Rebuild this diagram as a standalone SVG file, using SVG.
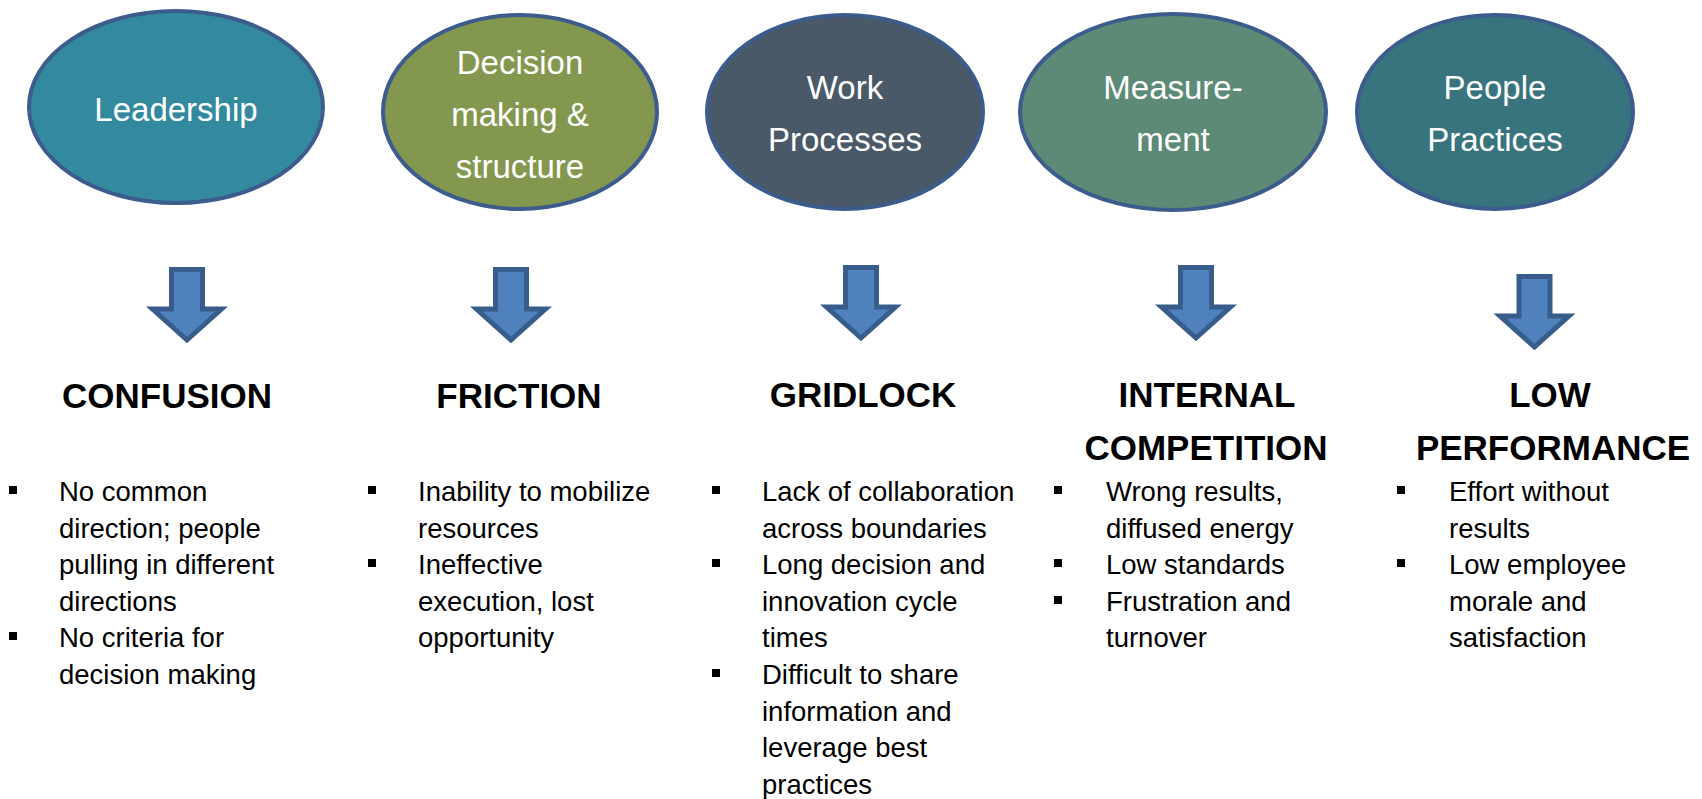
<svg xmlns="http://www.w3.org/2000/svg" xmlns:xlink="http://www.w3.org/1999/xlink" width="1702" height="799" viewBox="0 0 1702 799">
  <style>
    .oval { stroke: #3B5C8C; stroke-width: 4; }
    .oval-text { font-family: "Liberation Sans", Arial, sans-serif; font-size: 33px; fill: #FFFFFF; text-anchor: middle; }
    .title { font-family: "Liberation Sans", Arial, sans-serif; font-size: 35px; font-weight: bold; fill: #000000; text-anchor: middle; }
    .item { font-family: "Liberation Sans", Arial, sans-serif; font-size: 27.5px; fill: #000000; }
    .bullet { fill: #000000; }
    .down-arrow { fill: #4F81BD; stroke: #385D8A; stroke-width: 5; stroke-linejoin: miter; }
  </style>
  <defs>
    <!-- block arrow pointing down, origin at top centre of the shaft -->
    <path id="blockArrow" d="M -15.5 0 L 15.5 0 L 15.5 39.5 L 34.5 39.5 L 0 70.5 L -34.5 39.5 L -15.5 39.5 Z"/>
    <rect id="sq" width="8" height="8"/>
  </defs>
  <rect width="1702" height="799" fill="#FFFFFF"/>

  <!-- top row: organisational drivers -->
  <g id="node-leadership">
    <ellipse class="oval" cx="176" cy="107" rx="147" ry="96" fill="#338A9E"/>
    <text class="oval-text" x="176" y="121">Leadership</text>
  </g>
  <g id="node-decision">
    <ellipse class="oval" cx="520" cy="112" rx="137" ry="97" fill="#84974F"/>
    <text class="oval-text" x="520" y="74">Decision</text>
    <text class="oval-text" x="520" y="126">making &amp;</text>
    <text class="oval-text" x="520" y="178">structure</text>
  </g>
  <g id="node-work">
    <ellipse class="oval" cx="845" cy="112" rx="138" ry="97" fill="#4A5968"/>
    <text class="oval-text" x="845" y="99">Work</text>
    <text class="oval-text" x="845" y="151">Processes</text>
  </g>
  <g id="node-measurement">
    <ellipse class="oval" cx="1173" cy="112" rx="153" ry="98" fill="#5C8A76"/>
    <text class="oval-text" x="1173" y="99">Measure-</text>
    <text class="oval-text" x="1173" y="151">ment</text>
  </g>
  <g id="node-people">
    <ellipse class="oval" cx="1495" cy="112" rx="138" ry="97" fill="#38747E"/>
    <text class="oval-text" x="1495" y="99">People</text>
    <text class="oval-text" x="1495" y="151">Practices</text>
  </g>

  <!-- down arrows from each driver to its symptom -->
  <g id="connectors">
    <use xlink:href="#blockArrow" class="down-arrow" transform="translate(187 269.5)"/>
    <use xlink:href="#blockArrow" class="down-arrow" transform="translate(511 269.5)"/>
    <use xlink:href="#blockArrow" class="down-arrow" transform="translate(861 267.5)"/>
    <use xlink:href="#blockArrow" class="down-arrow" transform="translate(1196 267.5)"/>
    <use xlink:href="#blockArrow" class="down-arrow" transform="translate(1534.5 276.5)"/>
  </g>

  <!-- symptom columns -->
  <g id="node-confusion">
    <text class="title" x="167" y="408">CONFUSION</text>
    <use xlink:href="#sq" class="bullet" x="9" y="486"/>
    <use xlink:href="#sq" class="bullet" x="9" y="632"/>
    <text class="item" x="59" y="501">No common</text>
    <text class="item" x="59" y="537.6">direction; people</text>
    <text class="item" x="59" y="574.2">pulling in different</text>
    <text class="item" x="59" y="610.8">directions</text>
    <text class="item" x="59" y="647.4">No criteria for</text>
    <text class="item" x="59" y="684">decision making</text>
  </g>

  <g id="node-friction">
    <text class="title" x="519" y="408">FRICTION</text>
    <use xlink:href="#sq" class="bullet" x="368" y="486"/>
    <use xlink:href="#sq" class="bullet" x="368" y="559"/>
    <text class="item" x="418" y="501">Inability to mobilize</text>
    <text class="item" x="418" y="537.6">resources</text>
    <text class="item" x="418" y="574.2">Ineffective</text>
    <text class="item" x="418" y="610.8">execution, lost</text>
    <text class="item" x="418" y="647.4">opportunity</text>
  </g>

  <g id="node-gridlock">
    <text class="title" x="863" y="407">GRIDLOCK</text>
    <use xlink:href="#sq" class="bullet" x="712" y="486"/>
    <use xlink:href="#sq" class="bullet" x="712" y="559"/>
    <use xlink:href="#sq" class="bullet" x="712" y="669"/>
    <text class="item" x="762" y="501">Lack of collaboration</text>
    <text class="item" x="762" y="537.6">across boundaries</text>
    <text class="item" x="762" y="574.2">Long decision and</text>
    <text class="item" x="762" y="610.8">innovation cycle</text>
    <text class="item" x="762" y="647.4">times</text>
    <text class="item" x="762" y="684">Difficult to share</text>
    <text class="item" x="762" y="720.6">information and</text>
    <text class="item" x="762" y="757.2">leverage best</text>
    <text class="item" x="762" y="793.8">practices</text>
  </g>

  <g id="node-internal-competition">
    <text class="title" x="1207" y="407">INTERNAL</text>
    <text class="title" x="1206" y="460">COMPETITION</text>
    <use xlink:href="#sq" class="bullet" x="1054" y="486"/>
    <use xlink:href="#sq" class="bullet" x="1054" y="559"/>
    <use xlink:href="#sq" class="bullet" x="1054" y="596"/>
    <text class="item" x="1106" y="501">Wrong results,</text>
    <text class="item" x="1106" y="537.6">diffused energy</text>
    <text class="item" x="1106" y="574.2">Low standards</text>
    <text class="item" x="1106" y="610.8">Frustration and</text>
    <text class="item" x="1106" y="647.4">turnover</text>
  </g>

  <g id="node-low-performance">
    <text class="title" x="1550" y="407">LOW</text>
    <text class="title" x="1553" y="460">PERFORMANCE</text>
    <use xlink:href="#sq" class="bullet" x="1397" y="486"/>
    <use xlink:href="#sq" class="bullet" x="1397" y="559"/>
    <text class="item" x="1449" y="501">Effort without</text>
    <text class="item" x="1449" y="537.6">results</text>
    <text class="item" x="1449" y="574.2">Low employee</text>
    <text class="item" x="1449" y="610.8">morale and</text>
    <text class="item" x="1449" y="647.4">satisfaction</text>
  </g>
</svg>
